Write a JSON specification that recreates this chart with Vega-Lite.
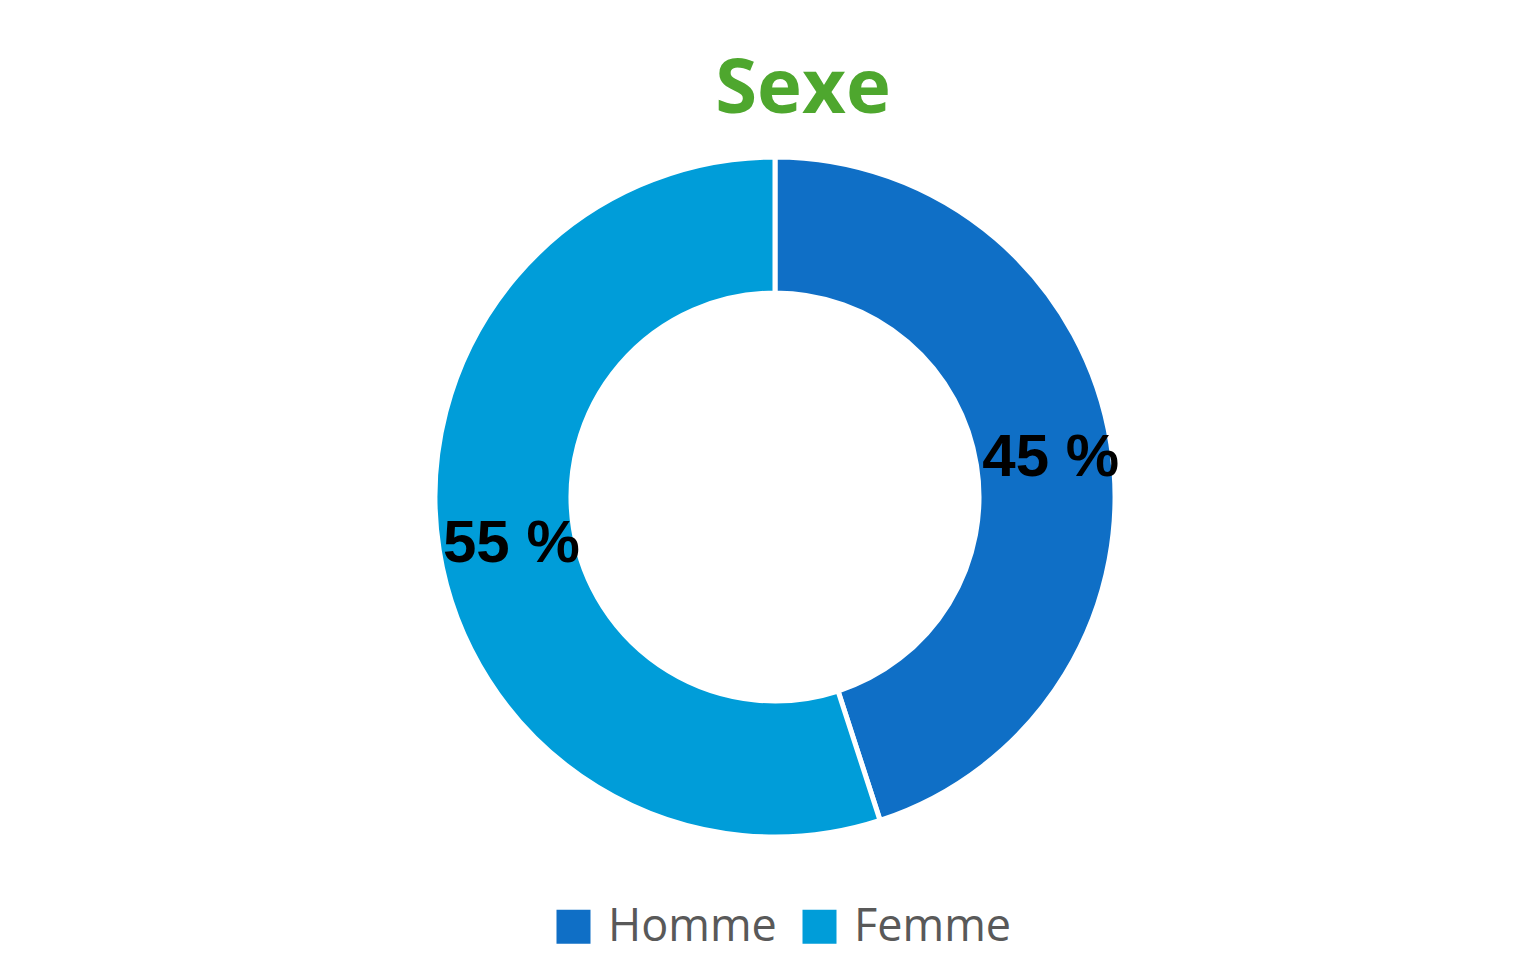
{
  "$schema": "https://vega.github.io/schema/vega-lite/v6.json",
  "autosize": {"type": "none"},
  "width": 1514,
  "height": 966,
  "padding": {"left": 18, "top": 14, "right": 0, "bottom": 0},
  "background": "white",
  "title": {
    "text": "Sexe",
    "font": "Open Sans",
    "fontSize": 76,
    "fontWeight": "bold",
    "color": "#4EA72E",
    "anchor": "middle",
    "baseline": "alphabetic",
    "offset": -175,
    "dx": 28
  },
  "data": {
    "values": [
      {"sexe": "Homme", "pourcentage": 45, "etiquette": "45 %", "ordre": 1},
      {"sexe": "Femme", "pourcentage": 55, "etiquette": "55 %", "ordre": 2}
    ]
  },
  "encoding": {
    "theta": {"field": "pourcentage", "type": "quantitative", "stack": true},
    "order": {"field": "ordre", "type": "quantitative"}
  },
  "layer": [
    {
      "mark": {"type": "arc", "radius": 340, "radius2": 204, "stroke": "white", "strokeWidth": 5},
      "encoding": {
        "color": {
          "field": "sexe",
          "type": "nominal",
          "scale": {"domain": ["Homme", "Femme"], "range": ["#0F6FC6", "#009DD9"]},
          "legend": {
            "title": null,
            "orient": "none",
            "direction": "horizontal",
            "legendX": 533,
            "legendY": 890,
            "symbolType": "square",
            "symbolSize": 1156,
            "symbolStrokeWidth": 0,
            "labelFont": "Open Sans",
            "labelFontSize": 45,
            "labelColor": "#595959",
            "labelLimit": 400,
            "labelOffset": 12,
            "columnPadding": 20
          }
        }
      }
    },
    {
      "mark": {"type": "text", "radius": 273, "dx": 6, "dy": 4, "font": "Liberation Sans", "fontSize": 60, "fontWeight": "bold", "color": "black"},
      "encoding": {
        "text": {"field": "etiquette", "type": "nominal"}
      }
    }
  ]
}
